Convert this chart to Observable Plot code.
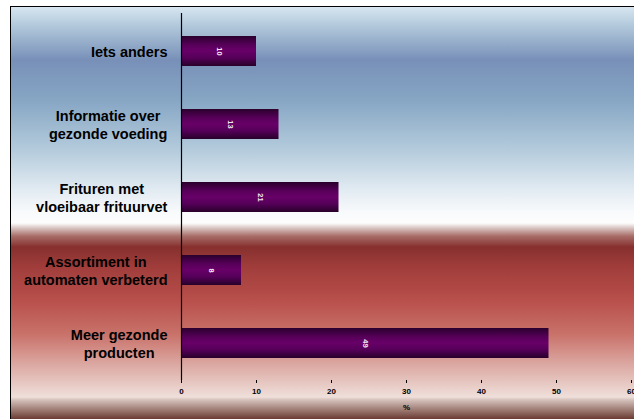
<!DOCTYPE html>
<html>
<head>
<meta charset="utf-8">
<script src="https://cdn.jsdelivr.net/npm/d3@7"></script>
<script src="https://cdn.jsdelivr.net/npm/@observablehq/plot@0.6"></script>
<style>
html, body { margin: 0; padding: 0; background: #fff; }
#wrap { position: relative; width: 634px; height: 419px; overflow: hidden; }
#bg {
  position: absolute; left: 10px; top: 6px; right: 0; bottom: 0;
  border-left: 1px solid #000; border-top: 1px solid #000;
  background: linear-gradient(to bottom,
    #d7e6f0 0px, #b3cadc 18px, #7890b8 53px, #86a6c4 93px, #b4cbdc 143px,
    #e2ebf2 183px, #f8fafc 205px, #fdfdfd 216px, #d9c5c2 221px, #a86e69 229px,
    #86302e 240px, #a03d3b 260px, #b84f4b 293px, #c9736b 328px, #dca9a3 358px,
    #efdfda 390px, #d4c0ba 393px, #9c7a72 403px, #6a3b32 412px);
}
#chart { position: absolute; left: 0; top: 0; }
</style>
</head>
<body>
<div id="wrap"><div id="bg"></div><div id="chart"></div></div>
<script>
const categories = [
  "Iets anders",
  "Informatie over\ngezonde voeding",
  "Frituren met\nvloeibaar frituurvet",
  "Assortiment in\nautomaten verbeterd",
  "Meer gezonde\nproducten"
];
const values = [10, 13, 21, 8, 49];
const xTicks = [0, 10, 20, 30, 40, 50, 60];
const xLabel = "%";

const data = categories.map((c, i) => ({cat: c, value: values[i]}));

const svg = Plot.plot({
  width: 634,
  height: 419,
  marginLeft: 181,
  marginRight: 3,
  marginTop: 13,
  marginBottom: 39,
  style: {background: "transparent", fontFamily: "'Liberation Sans', Arial, sans-serif", color: "#000"},
  x: {domain: [0, 60], ticks: xTicks},
  y: {domain: categories, paddingInner: 0.59, paddingOuter: 0.29, align: 0.5},
  marks: [
    Plot.barX(data, {x: "value", y: "cat", fill: "url(#barGrad)"}),
    Plot.text(data, {x: d => d.value / 2, y: "cat", text: d => String(d.value), rotate: 90, fill: "#f4e8f4", fontSize: 7.5, fontWeight: "bold"}),
    Plot.ruleX([0], {stroke: "#000", strokeWidth: 1.2}),
    Plot.axisX({ticks: xTicks, tickSize: 3, tickPadding: 5, fontWeight: "bold", fontSize: 8, line: true,
      label: xLabel, labelAnchor: "center", labelArrow: "none", labelOffset: 29}),
    Plot.axisY({tickSize: 0, tickPadding: 14, fontWeight: "bold", fontSize: 14.5, lineHeight: 1.24, label: null})
  ]
});

document.getElementById("chart").appendChild(svg);

const ns = "http://www.w3.org/2000/svg";
const defs = document.createElementNS(ns, "defs");
defs.innerHTML = '<linearGradient id="barGrad" x1="0" y1="0" x2="0" y2="1">' +
  '<stop offset="0" stop-color="#2a002c"/>' +
  '<stop offset="0.3" stop-color="#58005a"/>' +
  '<stop offset="0.5" stop-color="#680068"/>' +
  '<stop offset="0.72" stop-color="#56005a"/>' +
  '<stop offset="1" stop-color="#28002a"/>' +
  '</linearGradient>';
svg.insertBefore(defs, svg.firstChild);

// center the lines of each y label within its right-aligned block
svg.querySelectorAll('g[aria-label="y-axis tick label"] text').forEach(t => {
  const w = t.getBBox().width;
  t.setAttribute("text-anchor", "middle");
  const spans = t.querySelectorAll("tspan");
  if (spans.length) spans.forEach(s => s.setAttribute("x", -w / 2));
  else t.setAttribute("x", -w / 2);
});
</script>
</body>
</html>
